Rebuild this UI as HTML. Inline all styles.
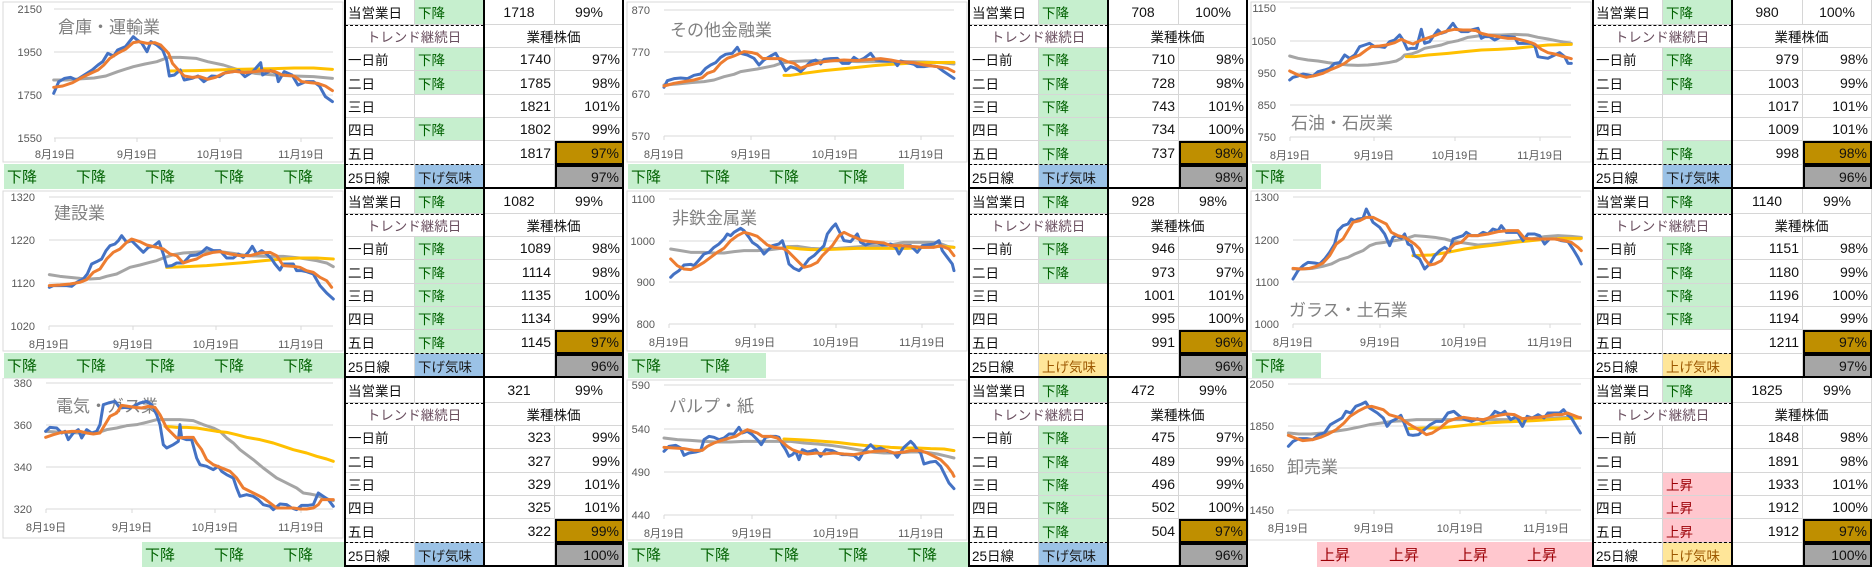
<!DOCTYPE html>
<html><head><meta charset="utf-8">
<style>
body{margin:0;width:1872px;height:567px;background:#fff;overflow:hidden;position:relative;font-family:"Liberation Sans","Noto Sans CJK JP",sans-serif;}
.pn{position:absolute;width:624px;height:189px;}
.pn svg{position:absolute;left:0;top:0;}
.t{position:absolute;left:345px;top:0;width:279px;height:189px;display:grid;grid-template-columns:70px 69px 71px 69px;grid-template-rows:25px 23px 23px 24px 23px 23px 24px 24px;}
.c{box-sizing:border-box;border-right:1px solid #d6d6d6;border-bottom:1px solid #d6d6d6;font-size:13.5px;color:#111;padding:0 3px;display:flex;align-items:center;white-space:nowrap;}
.m{justify-content:center;}
.r{justify-content:flex-end;}
.s2{grid-column:span 2;}
.tr{color:#6b5060;}
.g{background:#C6EFCE;color:#006100;}
.p{background:#FFC7CE;color:#9C0006;}
.b{background:#9BC2E6;color:#1a1a1a;}
.y{background:#FFE699;color:#9C5700;}
.gold{background:#BF8F00;border:2px solid #000;}
.gray{background:#A6A6A6;border:2px solid #000;}
.n{font-size:14px;}
.L{position:absolute;background:#000;}
.D{position:absolute;border-top:1.5px dashed #000;height:0;}
.br{position:absolute;top:164px;height:25px;width:69px;font-size:15px;padding-left:3px;box-sizing:border-box;display:flex;align-items:center;}
svg text{font-family:"Liberation Sans","Noto Sans CJK JP",sans-serif;}
.yl{font-size:11px;fill:#595959;text-anchor:end;}
.xl{font-size:11px;fill:#595959;text-anchor:middle;}
.ti{font-size:17px;fill:#808080;}
.gl{stroke:#d9d9d9;stroke-width:1;}
.s{fill:none;stroke-width:3;stroke-linejoin:round;stroke-linecap:round;}
.bl{stroke:#4472C4}.or{stroke:#ED7D31}.gr{stroke:#A5A5A5}.ye{stroke:#FFC000}
</style></head><body>

<!-- ===== Panel 1 ===== -->
<div class="pn" style="left:0;top:0">
<svg width="345" height="165">
<rect x="3" y="2" width="340" height="160" fill="#fff" stroke="#d9d9d9"/>
<g class="gl"><line x1="54" x2="333" y1="9" y2="9"/><line x1="54" x2="333" y1="52" y2="52"/><line x1="54" x2="333" y1="95" y2="95"/><line x1="54" x2="333" y1="138" y2="138"/>
<line x1="55" x2="55" y1="138" y2="142"/><line x1="137" x2="137" y1="138" y2="142"/><line x1="220" x2="220" y1="138" y2="142"/><line x1="301" x2="301" y1="138" y2="142"/></g>
<text class="yl" x="42" y="13">2150</text><text class="yl" x="42" y="56">1950</text><text class="yl" x="42" y="99">1750</text><text class="yl" x="42" y="142">1550</text>
<text class="xl" x="55" y="158">8月19日</text><text class="xl" x="137" y="158">9月19日</text><text class="xl" x="220" y="158">10月19日</text><text class="xl" x="301" y="158">11月19日</text>
<text class="ti" x="58" y="33">倉庫・運輸業</text>
<g transform="scale(0.392,0.3333)">
<polyline class="s gr" vector-effect="non-scaling-stroke" points="137,240 170,240 200,237 240,234 270,228 300,215 340,200 370,192 400,185 430,172 460,172 500,175 530,185 570,195 610,210 650,220 700,225 750,228 800,230 848,235"/>
<polyline class="s ye" vector-effect="non-scaling-stroke" points="430,213 500,212 600,208 700,206 750,204 800,204 848,208"/>
<polyline class="s bl" vector-effect="non-scaling-stroke" points="137,280 150,245 165,235 180,232 195,240 215,225 235,210 250,195 262,185 275,160 290,168 300,150 320,140 330,125 340,110 350,120 362,130 375,155 385,125 400,135 415,150 425,180 432,228 445,225 460,210 470,240 490,235 505,228 520,245 540,228 560,230 575,218 595,215 610,212 625,230 645,215 665,188 670,225 690,212 705,218 710,245 725,215 745,225 760,255 780,245 800,245 815,258 830,290 848,305"/>
<polyline class="s or" vector-effect="non-scaling-stroke" points="137,262 160,258 185,248 210,232 235,218 250,210 265,195 280,175 300,160 320,148 340,128 355,125 375,130 395,128 410,135 430,160 440,190 455,210 470,228 490,232 510,230 530,238 550,232 570,220 600,214 625,218 650,215 670,212 700,214 720,225 750,228 770,245 790,248 810,250 830,258 848,272"/>
</g></svg>
<div class="br g" style="left:4px">下降</div><div class="br g" style="left:73px">下降</div><div class="br g" style="left:142px">下降</div><div class="br g" style="left:211px">下降</div><div class="br g" style="left:280px;width:65px">下降</div>
<div class="t">
<div class="c">当営業日</div><div class="c g">下降</div><div class="c m n">1718</div><div class="c m n">99%</div>
<div class="c m s2 tr">トレンド継続日</div><div class="c m s2">業種株価</div>
<div class="c">一日前</div><div class="c g">下降</div><div class="c r n">1740</div><div class="c r n">97%</div>
<div class="c">二日</div><div class="c g">下降</div><div class="c r n">1785</div><div class="c r n">98%</div>
<div class="c">三日</div><div class="c"></div><div class="c r n">1821</div><div class="c r n">101%</div>
<div class="c">四日</div><div class="c g">下降</div><div class="c r n">1802</div><div class="c r n">99%</div>
<div class="c">五日</div><div class="c"></div><div class="c r n">1817</div><div class="c r n gold">97%</div>
<div class="c">25日線</div><div class="c b">下げ気味</div><div class="c"></div><div class="c r n gray">97%</div>
</div>
<div class="L" style="left:344px;top:0;width:2px;height:189px"></div><div class="L" style="left:483px;top:0;width:2px;height:189px"></div><div class="L" style="left:622px;top:0;width:2px;height:189px"></div><div class="L" style="left:344px;top:187px;width:280px;height:2px"></div>
<div class="D" style="left:345px;top:25px;width:139px"></div><div class="D" style="left:345px;top:164px;width:139px"></div>
</div>

<!-- ===== Panel 2 ===== -->
<div class="pn" style="left:624px;top:0">
<svg width="345" height="165">
<rect x="3" y="2" width="340" height="160" fill="#fff" stroke="#d9d9d9"/>
<g class="gl"><line x1="40" x2="330" y1="10" y2="10"/><line x1="40" x2="330" y1="52" y2="52"/><line x1="40" x2="330" y1="94" y2="94"/><line x1="40" x2="330" y1="136" y2="136"/>
<line x1="40" x2="40" y1="136" y2="140"/><line x1="127" x2="127" y1="136" y2="140"/><line x1="211" x2="211" y1="136" y2="140"/><line x1="297" x2="297" y1="136" y2="140"/></g>
<text class="yl" x="26" y="14">870</text><text class="yl" x="26" y="56">770</text><text class="yl" x="26" y="98">670</text><text class="yl" x="26" y="140">570</text>
<text class="xl" x="40" y="158">8月19日</text><text class="xl" x="127" y="158">9月19日</text><text class="xl" x="211" y="158">10月19日</text><text class="xl" x="297" y="158">11月19日</text>
<text class="ti" x="46" y="36">その他金融業</text>
<g transform="scale(0.3333)">
<polyline class="s gr" vector-effect="non-scaling-stroke" points="120,255 160,252 200,248 240,245 270,240 300,230 330,223 350,215 380,210 400,207 420,203 450,197 470,190 500,185 540,183 570,182 620,182 660,183 700,185 740,185 800,185 850,185 900,186 950,188 990,192"/>
<polyline class="s ye" vector-effect="non-scaling-stroke" points="480,226 500,226 540,220 600,212 650,207 700,202 750,197 800,193 850,190 900,188 990,187"/>
<polyline class="s bl" vector-effect="non-scaling-stroke" points="120,262 130,242 150,236 170,234 190,236 210,226 230,222 245,205 260,195 275,188 290,172 305,163 325,160 340,142 350,160 370,165 390,175 405,195 420,180 440,168 455,160 470,185 485,212 500,200 515,205 530,215 545,200 560,185 575,180 590,192 600,178 620,176 640,175 655,190 675,190 690,172 705,182 720,175 740,160 755,180 770,182 790,183 810,183 820,197 830,183 850,188 870,193 880,200 900,200 920,197 940,200 960,215 975,225 990,235"/>
<polyline class="s or" vector-effect="non-scaling-stroke" points="120,258 150,250 180,245 210,240 235,233 250,220 270,213 290,190 310,175 330,168 360,155 385,158 400,162 415,175 440,176 470,176 490,185 510,190 530,205 550,197 570,192 600,185 630,182 660,180 700,182 740,178 770,176 800,180 830,186 870,188 900,195 940,200 970,205 990,215"/>
</g></svg>
<div class="br g" style="left:4px">下降</div><div class="br g" style="left:73px">下降</div><div class="br g" style="left:142px">下降</div><div class="br g" style="left:211px">下降</div>
<div class="t">
<div class="c">当営業日</div><div class="c g">下降</div><div class="c m n">708</div><div class="c m n">100%</div>
<div class="c m s2 tr">トレンド継続日</div><div class="c m s2">業種株価</div>
<div class="c">一日前</div><div class="c g">下降</div><div class="c r n">710</div><div class="c r n">98%</div>
<div class="c">二日</div><div class="c g">下降</div><div class="c r n">728</div><div class="c r n">98%</div>
<div class="c">三日</div><div class="c g">下降</div><div class="c r n">743</div><div class="c r n">101%</div>
<div class="c">四日</div><div class="c g">下降</div><div class="c r n">734</div><div class="c r n">100%</div>
<div class="c">五日</div><div class="c g">下降</div><div class="c r n">737</div><div class="c r n gold">98%</div>
<div class="c">25日線</div><div class="c b">下げ気味</div><div class="c"></div><div class="c r n gray">98%</div>
</div>
<div class="L" style="left:344px;top:0;width:2px;height:189px"></div><div class="L" style="left:483px;top:0;width:2px;height:189px"></div><div class="L" style="left:622px;top:0;width:2px;height:189px"></div><div class="L" style="left:344px;top:187px;width:280px;height:2px"></div>
<div class="D" style="left:345px;top:25px;width:139px"></div><div class="D" style="left:345px;top:164px;width:139px"></div>
</div>

<!-- ===== Panel 3 ===== -->
<div class="pn" style="left:1248px;top:0">
<svg width="345" height="165">
<rect x="3" y="2" width="340" height="160" fill="#fff" stroke="#d9d9d9"/>
<g class="gl"><line x1="42" x2="323" y1="8" y2="8"/><line x1="42" x2="323" y1="41" y2="41"/><line x1="42" x2="323" y1="73" y2="73"/><line x1="42" x2="323" y1="105" y2="105"/><line x1="42" x2="323" y1="137" y2="137"/>
<line x1="42" x2="42" y1="137" y2="141"/><line x1="126" x2="126" y1="137" y2="141"/><line x1="207" x2="207" y1="137" y2="141"/><line x1="292" x2="292" y1="137" y2="141"/></g>
<text class="yl" x="28" y="12">1150</text><text class="yl" x="28" y="45">1050</text><text class="yl" x="28" y="77">950</text><text class="yl" x="28" y="109">850</text><text class="yl" x="28" y="141">750</text>
<text class="xl" x="42" y="159">8月19日</text><text class="xl" x="126" y="159">9月19日</text><text class="xl" x="207" y="159">10月19日</text><text class="xl" x="292" y="159">11月19日</text>
<text class="ti" x="43" y="129">石油・石炭業</text>
<g transform="scale(0.3333)">
<polyline class="s gr" vector-effect="non-scaling-stroke" points="125,168 150,175 180,180 210,183 240,188 270,192 300,195 330,196 360,195 390,192 420,188 445,183 460,175 470,165 490,162 510,155 530,145 555,140 580,135 600,128 630,122 660,112 690,108 720,105 760,105 800,103 840,105 870,112 900,117 940,125 970,130"/>
<polyline class="s ye" vector-effect="non-scaling-stroke" points="475,170 500,170 540,165 600,160 650,155 700,150 750,148 800,145 850,140 900,135 970,133"/>
<polyline class="s bl" vector-effect="non-scaling-stroke" points="125,240 135,232 150,228 165,222 180,225 195,228 210,215 230,210 245,205 260,190 275,188 290,165 305,175 320,165 335,140 350,135 365,130 380,140 395,140 410,142 425,125 440,120 455,105 465,120 478,148 490,145 505,145 520,88 530,130 545,125 555,110 570,90 580,100 595,95 615,70 625,85 640,95 660,95 670,90 690,85 700,115 710,110 725,110 740,120 760,110 780,110 800,112 810,130 830,130 850,130 860,135 870,170 880,172 900,175 920,165 935,158 950,170 960,190 970,190"/>
<polyline class="s or" vector-effect="non-scaling-stroke" points="125,213 150,225 175,232 200,227 225,220 250,208 270,200 290,190 310,175 335,165 355,150 370,140 395,138 415,135 440,128 460,118 475,125 495,132 520,120 545,112 565,105 585,97 600,92 620,88 645,90 665,90 685,92 700,100 720,105 740,108 760,112 780,115 800,115 820,120 840,125 860,132 880,148 900,158 920,162 940,168 970,176"/>
</g></svg>
<div class="br g" style="left:4px">下降</div>
<div class="t">
<div class="c">当営業日</div><div class="c g">下降</div><div class="c m n">980</div><div class="c m n">100%</div>
<div class="c m s2 tr">トレンド継続日</div><div class="c m s2">業種株価</div>
<div class="c">一日前</div><div class="c g">下降</div><div class="c r n">979</div><div class="c r n">98%</div>
<div class="c">二日</div><div class="c g">下降</div><div class="c r n">1003</div><div class="c r n">99%</div>
<div class="c">三日</div><div class="c"></div><div class="c r n">1017</div><div class="c r n">101%</div>
<div class="c">四日</div><div class="c"></div><div class="c r n">1009</div><div class="c r n">101%</div>
<div class="c">五日</div><div class="c g">下降</div><div class="c r n">998</div><div class="c r n gold">98%</div>
<div class="c">25日線</div><div class="c b">下げ気味</div><div class="c"></div><div class="c r n gray">96%</div>
</div>
<div class="L" style="left:344px;top:0;width:2px;height:189px"></div><div class="L" style="left:483px;top:0;width:2px;height:189px"></div><div class="L" style="left:344px;top:187px;width:280px;height:2px"></div>
<div class="D" style="left:345px;top:25px;width:139px"></div><div class="D" style="left:345px;top:164px;width:139px"></div>
</div>

<!-- ===== Panel 4 ===== -->
<div class="pn" style="left:0;top:189px">
<svg width="345" height="165">
<rect x="3" y="2" width="340" height="160" fill="#fff" stroke="#d9d9d9"/>
<g class="gl"><line x1="49" x2="333" y1="8" y2="8"/><line x1="49" x2="333" y1="51" y2="51"/><line x1="49" x2="333" y1="94" y2="94"/><line x1="49" x2="333" y1="137" y2="137"/>
<line x1="49" x2="49" y1="137" y2="141"/><line x1="133" x2="133" y1="137" y2="141"/><line x1="216" x2="216" y1="137" y2="141"/><line x1="301" x2="301" y1="137" y2="141"/></g>
<text class="yl" x="35" y="12">1320</text><text class="yl" x="35" y="55">1220</text><text class="yl" x="35" y="98">1120</text><text class="yl" x="35" y="141">1020</text>
<text class="xl" x="49" y="159">8月19日</text><text class="xl" x="133" y="159">9月19日</text><text class="xl" x="216" y="159">10月19日</text><text class="xl" x="301" y="159">11月19日</text>
<text class="ti" x="54" y="30">建設業</text>
<g transform="scale(0.3333)">
<polyline class="s gr" vector-effect="non-scaling-stroke" points="148,257 180,262 210,265 240,268 270,270 300,268 320,262 350,255 370,245 390,235 420,228 450,220 470,215 490,207 520,197 550,192 580,190 620,187 660,188 700,193 740,200 800,202 850,202 900,207 950,215 980,222 1000,233"/>
<polyline class="s ye" vector-effect="non-scaling-stroke" points="500,235 560,233 620,230 680,225 740,220 800,214 850,210 900,207 950,207 1000,210"/>
<polyline class="s bl" vector-effect="non-scaling-stroke" points="148,295 160,290 180,290 200,290 215,292 230,280 250,270 262,255 275,225 290,218 305,210 318,185 330,170 345,165 355,155 365,140 380,160 395,155 410,170 430,190 445,175 460,172 477,158 490,195 500,232 515,230 530,222 550,222 570,200 590,198 605,190 620,176 640,185 660,185 680,207 700,207 715,195 730,205 745,190 757,172 770,195 785,185 800,195 815,210 825,225 840,243 850,225 870,225 880,225 890,245 905,245 920,248 940,255 960,290 980,312 1000,330"/>
<polyline class="s or" vector-effect="non-scaling-stroke" points="148,290 180,288 210,285 240,280 260,272 280,250 300,240 320,210 340,190 360,180 380,160 395,150 420,158 440,168 470,175 490,180 510,195 530,200 550,222 570,215 590,210 610,198 640,190 660,188 690,195 720,200 750,200 780,192 810,190 830,200 850,230 880,232 900,235 920,245 940,250 960,265 980,275 995,295"/>
</g></svg>
<div class="br g" style="left:4px">下降</div><div class="br g" style="left:73px">下降</div><div class="br g" style="left:142px">下降</div><div class="br g" style="left:211px">下降</div><div class="br g" style="left:280px;width:65px">下降</div>
<div class="t">
<div class="c">当営業日</div><div class="c g">下降</div><div class="c m n">1082</div><div class="c m n">99%</div>
<div class="c m s2 tr">トレンド継続日</div><div class="c m s2">業種株価</div>
<div class="c">一日前</div><div class="c g">下降</div><div class="c r n">1089</div><div class="c r n">98%</div>
<div class="c">二日</div><div class="c g">下降</div><div class="c r n">1114</div><div class="c r n">98%</div>
<div class="c">三日</div><div class="c g">下降</div><div class="c r n">1135</div><div class="c r n">100%</div>
<div class="c">四日</div><div class="c g">下降</div><div class="c r n">1134</div><div class="c r n">99%</div>
<div class="c">五日</div><div class="c g">下降</div><div class="c r n">1145</div><div class="c r n gold">97%</div>
<div class="c">25日線</div><div class="c b">下げ気味</div><div class="c"></div><div class="c r n gray">96%</div>
</div>
<div class="L" style="left:344px;top:0;width:2px;height:189px"></div><div class="L" style="left:483px;top:0;width:2px;height:189px"></div><div class="L" style="left:622px;top:0;width:2px;height:189px"></div><div class="L" style="left:344px;top:187px;width:280px;height:2px"></div>
<div class="D" style="left:345px;top:25px;width:139px"></div><div class="D" style="left:345px;top:164px;width:139px"></div>
</div>

<!-- ===== Panel 5 ===== -->
<div class="pn" style="left:624px;top:189px">
<svg width="345" height="165">
<rect x="3" y="2" width="340" height="160" fill="#fff" stroke="#d9d9d9"/>
<g class="gl"><line x1="45" x2="330" y1="10" y2="10"/><line x1="45" x2="330" y1="52" y2="52"/><line x1="45" x2="330" y1="93" y2="93"/><line x1="45" x2="330" y1="135" y2="135"/>
<line x1="45" x2="45" y1="135" y2="139"/><line x1="131" x2="131" y1="135" y2="139"/><line x1="212" x2="212" y1="135" y2="139"/><line x1="298" x2="298" y1="135" y2="139"/></g>
<text class="yl" x="31" y="14">1100</text><text class="yl" x="31" y="56">1000</text><text class="yl" x="31" y="97">900</text><text class="yl" x="31" y="139">800</text>
<text class="xl" x="45" y="157">8月19日</text><text class="xl" x="131" y="157">9月19日</text><text class="xl" x="212" y="157">10月19日</text><text class="xl" x="298" y="157">11月19日</text>
<text class="ti" x="48" y="35">非鉄金属業</text>
<g transform="scale(0.3333)">
<polyline class="s gr" vector-effect="non-scaling-stroke" points="140,180 170,185 200,190 240,190 270,192 300,192 330,188 360,185 400,185 440,182 470,178 490,173 520,172 560,178 600,180 640,178 680,175 720,172 760,170 800,168 840,160 880,160 920,160 945,162 970,172 990,175"/>
<polyline class="s ye" vector-effect="non-scaling-stroke" points="490,175 530,180 560,182 600,182 650,180 700,178 750,178 800,178 850,178 900,175 950,172 990,175"/>
<polyline class="s bl" vector-effect="non-scaling-stroke" points="140,265 150,255 165,245 180,228 200,226 210,230 225,213 240,195 255,190 270,175 285,165 300,150 310,135 320,140 330,130 350,118 360,125 375,145 385,160 400,170 410,180 420,195 430,185 445,170 465,165 475,155 485,185 495,225 510,238 525,245 540,230 555,210 570,200 585,185 600,170 610,135 625,115 635,105 645,125 660,155 680,158 700,135 710,160 725,168 740,162 760,160 775,168 790,168 800,165 815,175 825,195 840,170 860,170 880,190 895,170 910,168 930,165 945,155 955,185 970,205 985,225 990,245"/>
<polyline class="s or" vector-effect="non-scaling-stroke" points="140,210 160,230 180,240 200,242 220,232 240,220 260,205 280,190 300,178 320,155 340,140 360,130 380,135 400,142 415,155 430,168 450,175 475,178 490,185 505,200 520,215 540,235 560,230 580,220 595,200 610,185 625,170 645,140 660,130 680,140 700,148 715,155 740,158 760,160 780,162 800,170 830,170 860,172 900,175 930,175 950,170 975,180 990,200"/>
</g></svg>
<div class="br g" style="left:4px">下降</div><div class="br g" style="left:73px">下降</div>
<div class="t">
<div class="c">当営業日</div><div class="c g">下降</div><div class="c m n">928</div><div class="c m n">98%</div>
<div class="c m s2 tr">トレンド継続日</div><div class="c m s2">業種株価</div>
<div class="c">一日前</div><div class="c g">下降</div><div class="c r n">946</div><div class="c r n">97%</div>
<div class="c">二日</div><div class="c g">下降</div><div class="c r n">973</div><div class="c r n">97%</div>
<div class="c">三日</div><div class="c"></div><div class="c r n">1001</div><div class="c r n">101%</div>
<div class="c">四日</div><div class="c"></div><div class="c r n">995</div><div class="c r n">100%</div>
<div class="c">五日</div><div class="c"></div><div class="c r n">991</div><div class="c r n gold">96%</div>
<div class="c">25日線</div><div class="c y">上げ気味</div><div class="c"></div><div class="c r n gray">96%</div>
</div>
<div class="L" style="left:344px;top:0;width:2px;height:189px"></div><div class="L" style="left:483px;top:0;width:2px;height:189px"></div><div class="L" style="left:622px;top:0;width:2px;height:189px"></div><div class="L" style="left:344px;top:187px;width:280px;height:2px"></div>
<div class="D" style="left:345px;top:25px;width:139px"></div><div class="D" style="left:345px;top:164px;width:139px"></div>
</div>

<!-- ===== Panel 6 ===== -->
<div class="pn" style="left:1248px;top:189px">
<svg width="345" height="165">
<rect x="3" y="2" width="340" height="160" fill="#fff" stroke="#d9d9d9"/>
<g class="gl"><line x1="45" x2="333" y1="8" y2="8"/><line x1="45" x2="333" y1="51" y2="51"/><line x1="45" x2="333" y1="93" y2="93"/><line x1="45" x2="333" y1="135" y2="135"/>
<line x1="45" x2="45" y1="135" y2="139"/><line x1="132" x2="132" y1="135" y2="139"/><line x1="216" x2="216" y1="135" y2="139"/><line x1="302" x2="302" y1="135" y2="139"/></g>
<text class="yl" x="31" y="12">1300</text><text class="yl" x="31" y="55">1200</text><text class="yl" x="31" y="97">1100</text><text class="yl" x="31" y="139">1000</text>
<text class="xl" x="45" y="157">8月19日</text><text class="xl" x="132" y="157">9月19日</text><text class="xl" x="216" y="157">10月19日</text><text class="xl" x="302" y="157">11月19日</text>
<text class="ti" x="41" y="127">ガラス・土石業</text>
<g transform="scale(0.3333)">
<polyline class="s gr" vector-effect="non-scaling-stroke" points="135,240 165,240 195,238 225,232 250,225 275,212 300,205 320,195 345,185 365,170 385,163 410,160 440,155 470,150 500,140 530,142 560,145 590,150 620,158 650,162 690,168 730,165 770,160 810,155 850,150 890,143 930,140 970,142 1000,145"/>
<polyline class="s ye" vector-effect="non-scaling-stroke" points="495,200 550,198 600,190 650,180 700,173 750,167 800,160 850,155 900,150 950,148 1000,148"/>
<polyline class="s bl" vector-effect="non-scaling-stroke" points="135,270 150,245 165,230 180,220 200,222 215,225 230,210 245,190 260,165 270,125 285,110 300,105 310,90 320,95 330,90 345,88 355,60 365,80 375,100 395,115 410,135 425,170 435,145 445,140 460,148 470,135 480,165 490,170 500,200 515,210 530,240 545,225 560,200 575,185 590,175 605,185 615,150 630,145 645,140 655,130 670,140 690,140 705,130 720,135 735,120 750,125 760,110 775,130 790,130 810,130 825,155 840,135 860,135 875,140 890,165 905,150 925,150 940,155 960,158 975,180 990,205 1000,225"/>
<polyline class="s or" vector-effect="non-scaling-stroke" points="135,238 160,240 185,238 205,232 225,222 245,200 265,165 285,150 300,125 315,100 335,95 355,85 375,85 395,95 415,105 430,130 450,140 470,145 485,155 500,165 515,180 530,210 545,228 560,225 580,215 600,185 620,165 640,160 660,140 690,140 720,135 750,128 780,125 810,125 830,148 860,150 890,150 920,150 950,155 970,160 990,175 1000,185"/>
</g></svg>
<div class="br g" style="left:4px">下降</div>
<div class="t">
<div class="c">当営業日</div><div class="c g">下降</div><div class="c m n">1140</div><div class="c m n">99%</div>
<div class="c m s2 tr">トレンド継続日</div><div class="c m s2">業種株価</div>
<div class="c">一日前</div><div class="c g">下降</div><div class="c r n">1151</div><div class="c r n">98%</div>
<div class="c">二日</div><div class="c g">下降</div><div class="c r n">1180</div><div class="c r n">99%</div>
<div class="c">三日</div><div class="c g">下降</div><div class="c r n">1196</div><div class="c r n">100%</div>
<div class="c">四日</div><div class="c g">下降</div><div class="c r n">1194</div><div class="c r n">99%</div>
<div class="c">五日</div><div class="c"></div><div class="c r n">1211</div><div class="c r n gold">97%</div>
<div class="c">25日線</div><div class="c y">上げ気味</div><div class="c"></div><div class="c r n gray">97%</div>
</div>
<div class="L" style="left:344px;top:0;width:2px;height:189px"></div><div class="L" style="left:483px;top:0;width:2px;height:189px"></div><div class="L" style="left:344px;top:187px;width:280px;height:2px"></div>
<div class="D" style="left:345px;top:25px;width:139px"></div><div class="D" style="left:345px;top:164px;width:139px"></div>
</div>

<!-- ===== Panel 7 ===== -->
<div class="pn" style="left:0;top:378px">
<svg width="345" height="165">
<rect x="3" y="0" width="340" height="160" fill="#fff" stroke="#d9d9d9"/>
<g class="gl"><line x1="46" x2="333" y1="5" y2="5"/><line x1="46" x2="333" y1="47" y2="47"/><line x1="46" x2="333" y1="89" y2="89"/><line x1="46" x2="333" y1="131" y2="131"/>
<line x1="46" x2="46" y1="131" y2="135"/><line x1="132" x2="132" y1="131" y2="135"/><line x1="215" x2="215" y1="131" y2="135"/><line x1="301" x2="301" y1="131" y2="135"/></g>
<text class="yl" x="32" y="9">380</text><text class="yl" x="32" y="51">360</text><text class="yl" x="32" y="93">340</text><text class="yl" x="32" y="135">320</text>
<text class="xl" x="46" y="153">8月19日</text><text class="xl" x="132" y="153">9月19日</text><text class="xl" x="215" y="153">10月19日</text><text class="xl" x="301" y="153">11月19日</text>
<text class="ti" x="56" y="34">電気・ガス業</text>
<g transform="scale(0.3333)">
<polyline class="s gr" vector-effect="non-scaling-stroke" points="137,160 170,162 200,163 240,165 280,165 300,162 320,155 350,150 380,143 410,140 440,133 470,125 500,125 540,125 580,128 610,140 640,150 660,160 680,180 700,195 720,215 740,230 760,245 790,270 810,285 830,300 850,310 870,320 890,330 910,345 930,348 950,352 970,360 1000,368"/>
<polyline class="s ye" vector-effect="non-scaling-stroke" points="495,145 530,148 560,148 590,150 620,155 650,160 680,163 710,170 740,178 780,185 820,195 850,205 880,215 920,225 950,235 980,243 1000,250"/>
<polyline class="s bl" vector-effect="non-scaling-stroke" points="137,160 150,148 170,150 185,165 195,160 205,185 220,165 235,155 245,180 260,155 275,165 290,160 300,140 310,80 325,75 345,70 360,90 375,88 390,90 400,85 420,75 440,70 455,80 470,110 480,140 490,200 500,210 520,200 535,190 540,140 545,180 560,185 575,185 590,240 600,260 620,265 640,275 655,265 665,280 680,290 700,300 710,330 720,355 740,350 760,355 775,365 790,380 810,385 820,395 840,378 860,380 875,390 890,395 905,382 925,382 940,380 955,345 970,355 985,365 1000,385"/>
<polyline class="s or" vector-effect="non-scaling-stroke" points="137,178 160,170 185,163 215,160 240,160 260,165 280,168 300,165 315,140 330,115 350,105 365,82 385,85 405,88 425,90 445,85 465,88 480,110 490,130 500,150 515,165 530,180 560,178 580,178 590,195 605,215 620,245 640,260 660,268 690,280 710,300 730,330 760,345 790,360 810,375 830,390 860,390 880,390 900,393 920,393 940,390 955,380 965,365 980,365 1000,365"/>
</g></svg>
<div class="br g" style="left:142px">下降</div><div class="br g" style="left:211px">下降</div><div class="br g" style="left:280px;width:65px">下降</div>
<div class="t">
<div class="c">当営業日</div><div class="c"></div><div class="c m n">321</div><div class="c m n">99%</div>
<div class="c m s2 tr">トレンド継続日</div><div class="c m s2">業種株価</div>
<div class="c">一日前</div><div class="c"></div><div class="c r n">323</div><div class="c r n">99%</div>
<div class="c">二日</div><div class="c"></div><div class="c r n">327</div><div class="c r n">99%</div>
<div class="c">三日</div><div class="c"></div><div class="c r n">329</div><div class="c r n">101%</div>
<div class="c">四日</div><div class="c"></div><div class="c r n">325</div><div class="c r n">101%</div>
<div class="c">五日</div><div class="c"></div><div class="c r n">322</div><div class="c r n gold">99%</div>
<div class="c">25日線</div><div class="c b">下げ気味</div><div class="c"></div><div class="c r n gray">100%</div>
</div>
<div class="L" style="left:344px;top:0;width:2px;height:189px"></div><div class="L" style="left:483px;top:0;width:2px;height:189px"></div><div class="L" style="left:622px;top:0;width:2px;height:189px"></div><div class="L" style="left:344px;top:187px;width:280px;height:2px"></div>
<div class="D" style="left:345px;top:25px;width:139px"></div><div class="D" style="left:345px;top:164px;width:139px"></div>
</div>

<!-- ===== Panel 8 ===== -->
<div class="pn" style="left:624px;top:378px">
<svg width="345" height="165">
<rect x="3" y="2" width="340" height="160" fill="#fff" stroke="#d9d9d9"/>
<g class="gl"><line x1="40" x2="330" y1="7" y2="7"/><line x1="40" x2="330" y1="51" y2="51"/><line x1="40" x2="330" y1="94" y2="94"/><line x1="40" x2="330" y1="137" y2="137"/>
<line x1="40" x2="40" y1="137" y2="141"/><line x1="128" x2="128" y1="137" y2="141"/><line x1="212" x2="212" y1="137" y2="141"/><line x1="297" x2="297" y1="137" y2="141"/></g>
<text class="yl" x="26" y="11">590</text><text class="yl" x="26" y="55">540</text><text class="yl" x="26" y="98">490</text><text class="yl" x="26" y="141">440</text>
<text class="xl" x="40" y="159">8月19日</text><text class="xl" x="128" y="159">9月19日</text><text class="xl" x="212" y="159">10月19日</text><text class="xl" x="297" y="159">11月19日</text>
<text class="ti" x="45" y="34">パルプ・紙</text>
<g transform="scale(0.3333)">
<polyline class="s gr" vector-effect="non-scaling-stroke" points="120,180 160,185 200,187 240,190 280,192 320,192 360,190 400,190 440,190 470,190 500,190 540,195 580,198 620,202 660,208 700,215 740,222 780,225 820,225 860,222 900,222 940,228 970,235 990,240"/>
<polyline class="s ye" vector-effect="non-scaling-stroke" points="480,183 520,185 560,187 600,190 640,193 680,198 720,202 760,205 800,208 840,210 880,210 920,212 960,213 990,218"/>
<polyline class="s bl" vector-effect="non-scaling-stroke" points="120,220 135,205 155,202 170,210 180,232 195,225 215,222 230,218 240,185 255,175 270,178 285,185 300,180 315,168 330,168 345,148 355,165 370,160 385,170 400,185 412,200 425,178 440,175 455,175 465,178 475,200 485,215 495,235 505,230 515,220 525,245 535,215 550,222 560,220 575,215 590,235 605,215 625,218 640,225 655,230 670,230 690,232 705,245 720,220 740,200 755,215 770,210 790,220 810,225 820,238 840,208 860,190 870,200 880,215 890,225 900,258 920,252 935,250 950,265 960,285 975,315 990,332"/>
<polyline class="s or" vector-effect="non-scaling-stroke" points="120,208 150,210 180,212 210,217 235,217 250,205 270,195 290,188 310,182 335,175 355,163 370,155 385,160 400,165 415,175 440,175 460,180 475,192 490,205 505,215 525,222 550,228 580,225 600,228 630,225 660,228 690,230 720,225 750,220 790,218 810,225 840,222 860,218 890,218 910,225 930,235 950,245 970,265 985,285 990,295"/>
</g></svg>
<div class="br g" style="left:4px">下降</div><div class="br g" style="left:73px">下降</div><div class="br g" style="left:142px">下降</div><div class="br g" style="left:211px">下降</div><div class="br g" style="left:280px;width:65px">下降</div>
<div class="t">
<div class="c">当営業日</div><div class="c g">下降</div><div class="c m n">472</div><div class="c m n">99%</div>
<div class="c m s2 tr">トレンド継続日</div><div class="c m s2">業種株価</div>
<div class="c">一日前</div><div class="c g">下降</div><div class="c r n">475</div><div class="c r n">97%</div>
<div class="c">二日</div><div class="c g">下降</div><div class="c r n">489</div><div class="c r n">99%</div>
<div class="c">三日</div><div class="c g">下降</div><div class="c r n">496</div><div class="c r n">99%</div>
<div class="c">四日</div><div class="c g">下降</div><div class="c r n">502</div><div class="c r n">100%</div>
<div class="c">五日</div><div class="c g">下降</div><div class="c r n">504</div><div class="c r n gold">97%</div>
<div class="c">25日線</div><div class="c b">下げ気味</div><div class="c"></div><div class="c r n gray">96%</div>
</div>
<div class="L" style="left:344px;top:0;width:2px;height:189px"></div><div class="L" style="left:483px;top:0;width:2px;height:189px"></div><div class="L" style="left:622px;top:0;width:2px;height:189px"></div><div class="L" style="left:344px;top:187px;width:280px;height:2px"></div>
<div class="D" style="left:345px;top:25px;width:139px"></div><div class="D" style="left:345px;top:164px;width:139px"></div>
</div>

<!-- ===== Panel 9 ===== -->
<div class="pn" style="left:1248px;top:378px">
<svg width="345" height="165">
<rect x="0" y="0" width="343" height="162" fill="#fff" stroke="#d9d9d9"/>
<g class="gl"><line x1="40" x2="333" y1="6" y2="6"/><line x1="40" x2="333" y1="48" y2="48"/><line x1="40" x2="333" y1="90" y2="90"/><line x1="40" x2="333" y1="132" y2="132"/>
<line x1="40" x2="40" y1="132" y2="136"/><line x1="126" x2="126" y1="132" y2="136"/><line x1="212" x2="212" y1="132" y2="136"/><line x1="298" x2="298" y1="132" y2="136"/></g>
<text class="yl" x="26" y="10">2050</text><text class="yl" x="26" y="52">1850</text><text class="yl" x="26" y="94">1650</text><text class="yl" x="26" y="136">1450</text>
<text class="xl" x="40" y="154">8月19日</text><text class="xl" x="126" y="154">9月19日</text><text class="xl" x="212" y="154">10月19日</text><text class="xl" x="298" y="154">11月19日</text>
<text class="ti" x="39" y="95">卸売業</text>
<g transform="scale(0.392,0.3333)">
<polyline class="s gr" vector-effect="non-scaling-stroke" points="103,165 130,168 160,168 190,165 220,160 250,155 280,148 310,140 340,135 370,130 400,128 430,125 460,125 500,125 540,125 580,125 620,125 660,125 700,125 740,122 780,120 820,118 848,118"/>
<polyline class="s ye" vector-effect="non-scaling-stroke" points="410,152 450,150 490,150 530,145 570,140 610,135 650,132 690,130 730,128 770,125 810,122 848,120"/>
<polyline class="s bl" vector-effect="non-scaling-stroke" points="103,205 115,190 130,182 150,182 165,185 180,170 195,165 210,140 225,130 240,120 250,100 262,105 275,85 290,78 300,72 310,90 330,105 345,120 355,145 365,130 375,125 390,112 400,140 410,170 420,172 435,170 450,155 465,140 480,130 495,130 510,105 525,100 540,115 555,125 570,130 585,122 600,130 620,115 630,100 645,108 655,100 670,125 685,115 700,145 712,115 725,120 740,110 755,120 765,105 780,105 795,105 805,95 815,110 825,120 835,140 848,165"/>
<polyline class="s or" vector-effect="non-scaling-stroke" points="103,172 120,180 140,188 165,185 185,178 205,168 225,155 245,135 260,115 280,100 300,88 315,85 330,90 345,95 360,110 375,115 390,120 400,130 420,145 440,158 455,170 470,165 490,150 510,130 530,122 550,118 570,122 600,125 620,118 640,112 660,108 680,110 700,122 720,120 740,118 760,115 780,110 800,110 815,105 830,112 848,120"/>
</g></svg>
<div class="br p" style="left:69px">上昇</div><div class="br p" style="left:138px">上昇</div><div class="br p" style="left:207px">上昇</div><div class="br p" style="left:276px">上昇</div>
<div class="t">
<div class="c">当営業日</div><div class="c g">下降</div><div class="c m n">1825</div><div class="c m n">99%</div>
<div class="c m s2 tr">トレンド継続日</div><div class="c m s2">業種株価</div>
<div class="c">一日前</div><div class="c"></div><div class="c r n">1848</div><div class="c r n">98%</div>
<div class="c">二日</div><div class="c"></div><div class="c r n">1891</div><div class="c r n">98%</div>
<div class="c">三日</div><div class="c p">上昇</div><div class="c r n">1933</div><div class="c r n">101%</div>
<div class="c">四日</div><div class="c p">上昇</div><div class="c r n">1912</div><div class="c r n">100%</div>
<div class="c">五日</div><div class="c p">上昇</div><div class="c r n">1912</div><div class="c r n gold">97%</div>
<div class="c">25日線</div><div class="c y">上げ気味</div><div class="c"></div><div class="c r n gray">100%</div>
</div>
<div class="L" style="left:344px;top:0;width:2px;height:189px"></div><div class="L" style="left:483px;top:0;width:2px;height:189px"></div><div class="L" style="left:344px;top:187px;width:280px;height:2px"></div>
<div class="D" style="left:345px;top:25px;width:139px"></div><div class="D" style="left:345px;top:164px;width:139px"></div>
</div>

</body></html>
